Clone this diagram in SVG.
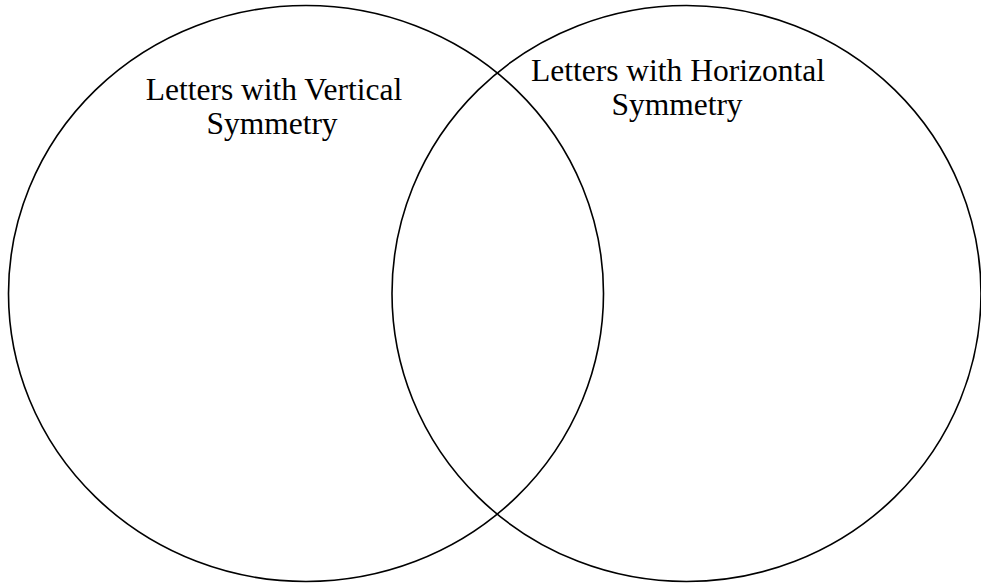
<svg xmlns="http://www.w3.org/2000/svg" width="981" height="584" viewBox="0 0 981 584">
<style>
.set{fill:none;stroke:#000;stroke-width:1.6}
.lbl{font-family:"Liberation Serif","Times New Roman",serif;font-size:31.5px;fill:#000;text-anchor:middle}
</style>
<rect width="981" height="584" fill="#fff"/>
<g id="vertical">
<ellipse class="set" cx="306" cy="293.5" rx="297.5" ry="288"/>
<text class="lbl" x="274" y="99.5">Letters with Vertical</text>
<text class="lbl" x="272" y="133.5">Symmetry</text>
</g>
<g id="horizontal">
<ellipse class="set" cx="686.5" cy="293.5" rx="294.5" ry="288"/>
<text class="lbl" x="678" y="80.5">Letters with Horizontal</text>
<text class="lbl" x="677" y="115">Symmetry</text>
</g>
<g id="connectors"></g>
</svg>
